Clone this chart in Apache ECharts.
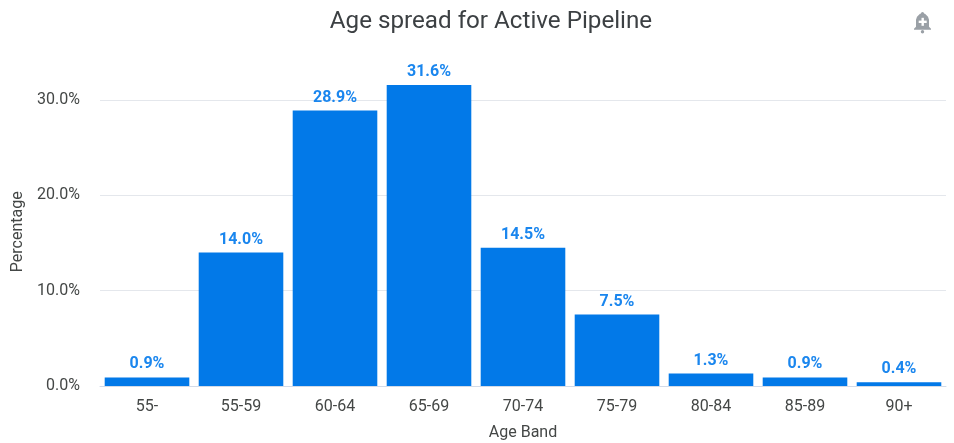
<!DOCTYPE html>
<html>
<head>
<meta charset="utf-8">
<style>html,body{margin:0;padding:0;background:#fff}#c{width:954px;height:443px}</style>
<script src="https://cdn.jsdelivr.net/npm/echarts@6/dist/echarts.min.js"></script>
</head>
<body>
<div id="c"></div>
<script>
const categories = ['55-','55-59','60-64','65-69','70-74','75-79','80-84','85-89','90+'];
const percentages = [0.9,14.0,28.9,31.6,14.5,7.5,1.3,0.9,0.4];

const chart = echarts.init(document.getElementById('c'), null, {renderer:'canvas'});
const bellGrey = '#9aa0a6';
chart.setOption({
  animation:false,
  backgroundColor:'#fff',
  textStyle:{fontFamily:'Roboto'},
  title:{
    text:'Age spread for Active Pipeline',
    left:486, top:5, textAlign:'center',
    textStyle:{fontFamily:'Roboto',fontSize:24.2,fontWeight:400,color:'#3c4043'}
  },
  grid:{left:100,right:8,top:52.5,bottom:57,outerBoundsMode:'none'},
  xAxis:{
    type:'category',
    data:categories,
    name:'Age Band',
    nameLocation:'middle',
    nameGap:39,
    nameTextStyle:{fontSize:16,color:'#444746'},
    axisLine:{lineStyle:{color:'#d3dbe8',width:1}},
    axisTick:{show:false},
    axisLabel:{fontSize:16,color:'#444746',margin:13}
  },
  yAxis:{
    type:'value',
    min:0,max:35,interval:10,
    name:'Percentage',
    nameLocation:'middle',
    nameGap:73,
    nameTextStyle:{fontSize:16,color:'#444746',padding:[0,25,0,0]},
    axisLine:{show:false},
    axisTick:{show:false},
    axisLabel:{fontSize:16,color:'#444746',margin:20,showMaxLabel:false,
      padding:[1,0,0,0],
      formatter:v=>v.toFixed(1)+'%'},
    splitLine:{showMaxLine:false,lineStyle:{color:'#e4e7ec',width:1}}
  },
  series:[{
    type:'bar',
    data:percentages,
    barCategoryGap:'10%',
    itemStyle:{color:'#0279e8'},
    label:{show:true,position:'top',distance:5,fontSize:16,fontWeight:700,color:'#1a86ee',
      formatter:p=>p.value.toFixed(1)+'%'}
  }],
  // Alert bell in the top-right corner, with a white plus on its body
  graphic:[{
    type:'group',
    left:914,top:12,
    children:[
      {type:'polygon',shape:{points:[[7,2],[12,2],[15,5],[16,8],[16,15],[18,17],[18,18],[1,18],[1,17],[3,15],[3,8],[4,5]]},style:{fill:bellGrey}},
      {type:'circle',shape:{cx:9.5,cy:1.8,r:1.6},style:{fill:bellGrey}},
      {type:'circle',shape:{cx:9.5,cy:20,r:1.7},style:{fill:bellGrey}},
      {type:'rect',shape:{x:8.5,y:6,width:2.4,height:8},style:{fill:'#fff'}},
      {type:'rect',shape:{x:5.7,y:8.8,width:8,height:2.4},style:{fill:'#fff'}}
    ]
  }]
});
</script>
</body>
</html>
